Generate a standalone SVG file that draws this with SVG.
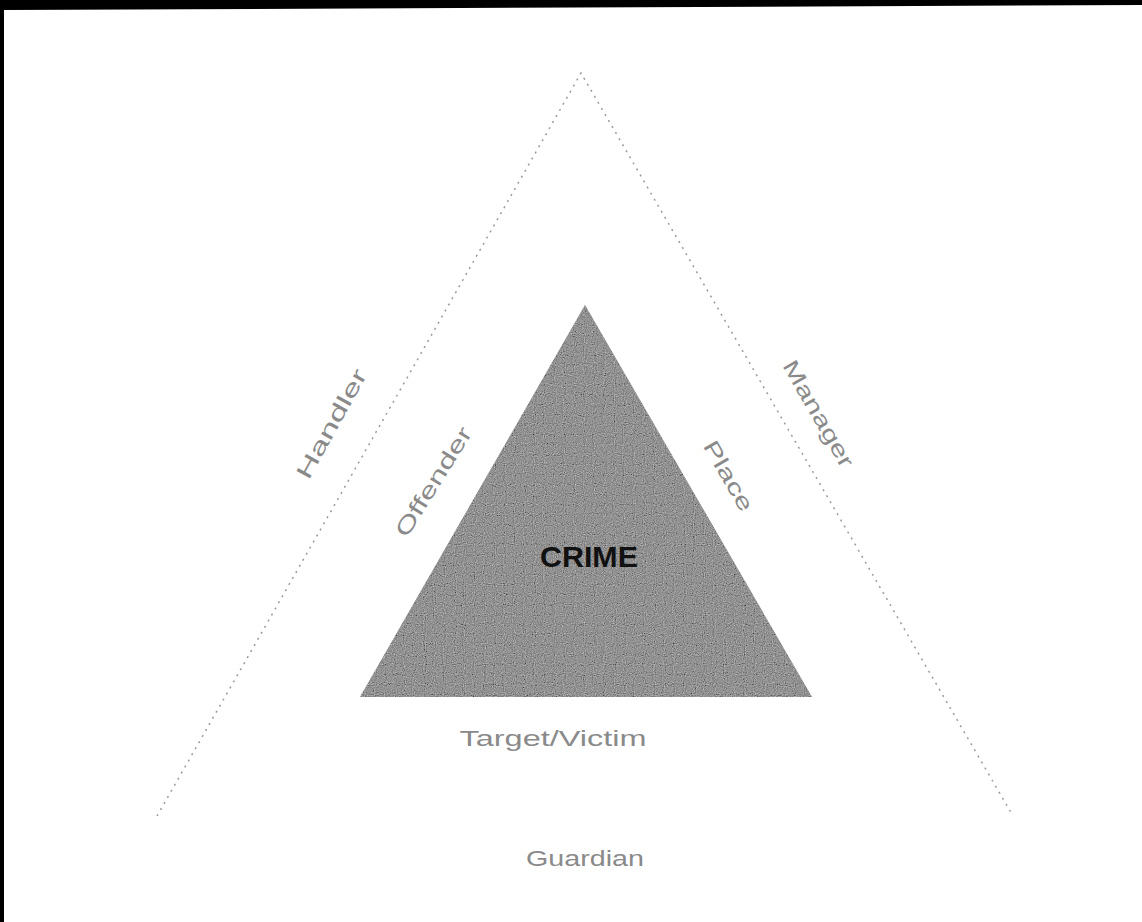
<svg xmlns="http://www.w3.org/2000/svg" width="1142" height="922" viewBox="0 0 1142 922">
  <style>
    .lbl { font-family: "Liberation Sans", Arial, sans-serif; fill: #8a8a8a; font-size: 22px; }
    .crime { font-family: "Liberation Sans", Arial, sans-serif; fill: #111; font-size: 30px; font-weight: bold; }
    .outer { fill: none; stroke: #9a9a9a; stroke-width: 1.5; stroke-dasharray: 2 5; }
    .inner { fill: #7c7c7c; stroke: none; }
  </style>
  <defs>
    <filter id="noise" x="0" y="0" width="100%" height="100%">
      <feTurbulence type="fractalNoise" baseFrequency="0.9" numOctaves="1" seed="3" result="n"/>
      <feColorMatrix type="saturate" values="0" in="n" result="g"/>
      <feComponentTransfer in="g" result="c">
        <feFuncR type="linear" slope="2.6" intercept="-0.8"/>
        <feFuncG type="linear" slope="2.6" intercept="-0.8"/>
        <feFuncB type="linear" slope="2.6" intercept="-0.8"/>
      </feComponentTransfer>
      <feComposite in="c" in2="SourceGraphic" operator="in"/>
    </filter>
  </defs>
  <rect x="0" y="0" width="1142" height="922" fill="#ffffff"/>
  <polygon points="0,0 1142,0 1142,5 4,10 4,922 0,922" fill="#000"/>
  <g id="connectors">
    <polyline id="outer-triangle" class="outer" points="157,816 581,73 1013,816"/>
  </g>
  <g id="crime">
    <polygon class="inner" points="585,305 360,697 812,697"/>
    <polygon points="585,305 360,697 812,697" fill="#777" filter="url(#noise)" opacity="0.7"/>
    <text class="crime" x="589" y="567" text-anchor="middle" textLength="98" lengthAdjust="spacingAndGlyphs">CRIME</text>
  </g>
  <g id="handler">
    <text class="lbl" transform="translate(332,424) rotate(-61)" text-anchor="middle" y="7" textLength="122" lengthAdjust="spacingAndGlyphs">Handler</text>
  </g>
  <g id="manager">
    <text class="lbl" transform="translate(818,414) rotate(60)" text-anchor="middle" y="7" textLength="120" lengthAdjust="spacingAndGlyphs">Manager</text>
  </g>
  <g id="offender">
    <text class="lbl" transform="translate(434,482) rotate(-58)" text-anchor="middle" y="7" textLength="125" lengthAdjust="spacingAndGlyphs">Offender</text>
  </g>
  <g id="place">
    <text class="lbl" transform="translate(728,476) rotate(60)" text-anchor="middle" y="7" textLength="78" lengthAdjust="spacingAndGlyphs">Place</text>
  </g>
  <g id="target-victim">
    <text class="lbl" x="553" y="746" text-anchor="middle" font-size="24" textLength="187" lengthAdjust="spacingAndGlyphs">Target/Victim</text>
  </g>
  <g id="guardian">
    <text class="lbl" x="585" y="866" text-anchor="middle" font-size="24" textLength="118" lengthAdjust="spacingAndGlyphs">Guardian</text>
  </g>
</svg>
